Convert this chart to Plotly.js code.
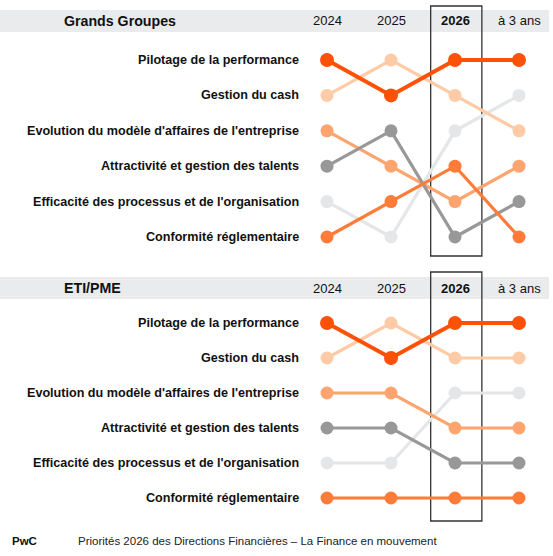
<!DOCTYPE html>
<html>
<head>
<meta charset="utf-8">
<script src="https://cdn.plot.ly/plotly-3.0.1.min.js"></script>
<style>
  html, body { margin: 0; padding: 0; background: #ffffff; }
  #chart { width: 553px; height: 556px; }
</style>
</head>
<body>
<div id="chart"></div>
<script>
// columns and rows
var periods = ["2024", "2025", "2026", "à 3 ans"];
var categories = [
    "Pilotage de la performance",
    "Gestion du cash",
    "Evolution du modèle d'affaires de l'entreprise",
    "Attractivité et gestion des talents",
    "Efficacité des processus et de l'organisation",
    "Conformité réglementaire"
];

// rank of each priority per period (1 = top)
var rankGrandsGroupes = [
    [1, 2, 1, 1],
    [2, 1, 2, 3],
    [3, 4, 5, 4],
    [4, 3, 6, 5],
    [5, 6, 3, 2],
    [6, 5, 4, 6]
];
var rankEtiPme = [
    [1, 2, 1, 1],
    [2, 1, 2, 2],
    [3, 3, 4, 4],
    [4, 4, 5, 5],
    [5, 5, 3, 3],
    [6, 6, 6, 6]
];

var colors = ["#FD5108", "#FECBA6", "#FEA46E", "#989898", "#E4E6E8", "#FE7B38"];
var lineWidths = [4, 3.2, 3.2, 3.2, 3.2, 3.2];
var drawOrder = [4, 1, 2, 3, 5, 0];

var W = 553, H = 556;
function py(px) { return 1 - px / H; }

var xs = [0, 1, 2, 3];
var traces = [];

function addPanel(ranks, yaxisName) {
    drawOrder.forEach(function (i) {
        traces.push({
            x: xs,
            y: ranks[i],
            xaxis: "x",
            yaxis: yaxisName,
            type: "scatter",
            mode: "lines+markers",
            name: categories[i],
            line: { color: colors[i], width: lineWidths[i] },
            marker: { color: colors[i], size: i === 0 ? 14 : 13 },
            cliponaxis: false,
            hoverinfo: "skip",
            showlegend: false
        });
    });
}

addPanel(rankGrandsGroupes, "y");
addPanel(rankEtiPme, "y2");

var annotations = [];
var font = "Liberation Sans, Arial, sans-serif";

// row labels
categories.forEach(function (c, k) {
    ["y", "y2"].forEach(function (yr) {
        annotations.push({
            xref: "paper", x: 301 / W, xanchor: "right",
            yref: yr, y: k + 1, yanchor: "middle",
            text: "<b>" + c + "</b>", showarrow: false,
            font: { family: font, size: 12.6, color: "#111111" }
        });
    });
});

// period headers
[21, 288].forEach(function (yp) {
    periods.forEach(function (p, j) {
        annotations.push({
            xref: "x", x: j, xanchor: "center",
            yref: "paper", y: py(yp), yanchor: "middle",
            text: j === 2 ? "<b>" + p + "</b>" : p, showarrow: false,
            font: { family: font, size: 13, color: "#111111" }
        });
    });
});

// panel titles
annotations.push({
    xref: "paper", x: 62 / W, xanchor: "left",
    yref: "paper", y: py(21), yanchor: "middle",
    text: "<b>Grands Groupes</b>", showarrow: false,
    font: { family: font, size: 14.2, color: "#111111" }
});
annotations.push({
    xref: "paper", x: 62 / W, xanchor: "left",
    yref: "paper", y: py(288), yanchor: "middle",
    text: "<b>ETI/PME</b>", showarrow: false,
    font: { family: font, size: 14.2, color: "#111111" }
});

// footer
annotations.push({
    xref: "paper", x: 10 / W, xanchor: "left",
    yref: "paper", y: py(541), yanchor: "middle",
    text: "<b>PwC</b>", showarrow: false,
    font: { family: font, size: 11.5, color: "#111111" }
});
annotations.push({
    xref: "paper", x: 76 / W, xanchor: "left",
    yref: "paper", y: py(541), yanchor: "middle",
    text: "Priorités 2026 des Directions Financières – La Finance en mouvement", showarrow: false,
    font: { family: font, size: 11.5, color: "#222222" }
});

var shapes = [
    { type: "rect", xref: "paper", yref: "paper", x0: 0, x1: 549 / W, y0: py(32), y1: py(10),
      fillcolor: "#EAEBEC", line: { width: 0 }, layer: "below" },
    { type: "rect", xref: "paper", yref: "paper", x0: 0, x1: 549 / W, y0: py(299), y1: py(277),
      fillcolor: "#EAEBEC", line: { width: 0 }, layer: "below" },
    { type: "rect", xref: "x", yref: "paper", x0: 1.62, x1: 2.42, y0: py(256), y1: py(6),
      line: { color: "#333333", width: 1.3 }, fillcolor: "rgba(0,0,0,0)", layer: "below" },
    { type: "rect", xref: "x", yref: "paper", x0: 1.62, x1: 2.42, y0: py(521), y1: py(272),
      line: { color: "#333333", width: 1.3 }, fillcolor: "rgba(0,0,0,0)", layer: "below" }
];

var hiddenAxis = { showgrid: false, zeroline: false, showticklabels: false, ticks: "", showline: false, fixedrange: true };

var layout = {
    width: W,
    height: H,
    margin: { l: 0, r: 0, t: 0, b: 0 },
    paper_bgcolor: "#ffffff",
    plot_bgcolor: "rgba(0,0,0,0)",
    showlegend: false,
    xaxis: Object.assign({ domain: [0, 1], range: [-327 / 64, (W - 327) / 64] }, hiddenAxis),
    yaxis: Object.assign({ domain: [0.5, 1], anchor: "x", range: [1 + (278 - 60) / 35.4, 1 - 60 / 35.4] }, hiddenAxis),
    yaxis2: Object.assign({ domain: [0, 0.5], anchor: "x", range: [1 + (556 - 323) / 35, 1 - (323 - 278) / 35] }, hiddenAxis),
    annotations: annotations,
    shapes: shapes
};

var config = { displayModeBar: false, staticPlot: true };

Plotly.newPlot("chart", traces, layout, config);
</script>
</body>
</html>
